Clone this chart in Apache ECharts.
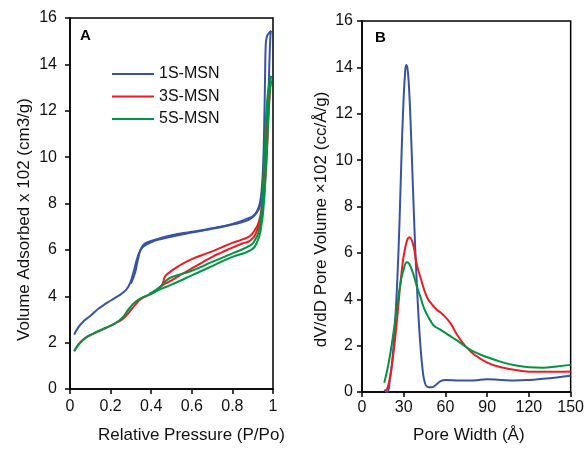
<!DOCTYPE html>
<html><head><meta charset="utf-8">
<script src="https://cdn.jsdelivr.net/npm/echarts@6/dist/echarts.min.js"></script>
<style>html,body{margin:0;padding:0;background:#fff}#c{width:587px;height:449px}</style>
</head><body><div id="c"></div>
<script>
// ---------- Panel A: N2 isotherms (Relative Pressure vs Volume Adsorbed x 10^2) ----------
const xTicksA = [0, 0.2, 0.4, 0.6, 0.8, 1];
const yTicks = [0, 2, 4, 6, 8, 10, 12, 14, 16];

const p1S_ads = [0.021,0.04,0.07,0.1,0.14,0.18,0.22,0.26,0.288,0.31,0.33,0.345,0.362,0.4,0.45,0.52,0.6,0.69,0.78,0.85,0.888,0.92,0.94,0.955,0.965,0.975,0.982,0.987,0.99];
const v1S_ads = [2.34,2.65,2.95,3.15,3.46,3.7,3.92,4.15,4.42,4.95,5.6,5.95,6.15,6.33,6.47,6.61,6.75,6.89,7.05,7.2,7.33,7.6,8.0,8.8,10.0,12.0,14.0,15.2,15.45];
const p1S_des = [0.3,0.32,0.335,0.35,0.37,0.4,0.5,0.6,0.7,0.8,0.888,0.9,0.92,0.935,0.945,0.952,0.957,0.961,0.964,0.97,0.98,0.99];
const v1S_des = [4.55,5.0,5.6,6.05,6.28,6.38,6.63,6.78,6.93,7.12,7.4,7.45,7.65,8.0,8.7,9.8,11.5,13.5,14.8,15.2,15.35,15.45];

const p3S_ads = [0.021,0.04,0.074,0.12,0.17,0.222,0.26,0.29,0.32,0.35,0.386,0.42,0.444,0.47,0.5,0.55,0.6,0.65,0.7,0.75,0.8,0.85,0.888,0.92,0.945,0.96,0.97,0.98,0.99];
const v3S_ads = [1.64,1.9,2.2,2.4,2.6,2.83,3.02,3.3,3.62,3.88,4.05,4.2,4.4,4.55,4.68,4.95,5.2,5.45,5.7,5.9,6.1,6.28,6.4,6.8,7.6,8.8,10.2,12.2,13.3];
const p3S_des = [0.42,0.44,0.455,0.469,0.493,0.518,0.55,0.6,0.69,0.75,0.8,0.85,0.888,0.91,0.93,0.945,0.955,0.965,0.975,0.985,0.99];
const v3S_des = [4.2,4.35,4.5,4.86,5.05,5.2,5.38,5.6,5.9,6.12,6.3,6.45,6.61,6.85,7.2,7.9,9.2,11.2,12.5,13.0,13.3];

const p5S_ads = [0.021,0.04,0.074,0.12,0.17,0.222,0.26,0.29,0.32,0.35,0.386,0.444,0.5,0.6,0.7,0.8,0.888,0.92,0.94,0.955,0.965,0.975,0.985,0.99];
const v5S_ads = [1.62,1.88,2.18,2.42,2.62,2.83,3.1,3.45,3.74,3.92,4.06,4.3,4.5,4.9,5.3,5.7,5.98,6.3,6.9,8.0,9.5,11.3,13.0,13.5];
const p5S_des = [0.39,0.42,0.45,0.47,0.5,0.6,0.7,0.8,0.888,0.91,0.93,0.942,0.952,0.962,0.972,0.982,0.99];
const v5S_des = [4.1,4.25,4.45,4.65,4.82,5.1,5.48,5.85,6.19,6.4,6.8,7.5,9.0,11.0,12.5,13.2,13.5];

// ---------- Panel B: pore size distribution ----------
const xTicksB = [0, 30, 60, 90, 120, 150];
const w1S = [16,18,20,22,24,25.5,27,28.3,29.6,30.8,31.8,32.8,34,35.2,36.4,37.6,39,40.5,42,43.5,45,47,50,53,56,60,70,80,90,100,110,120,130,140,150];
const d1S = [0.1,0,0.5,1.5,3.2,5.0,7.4,10.0,12.2,13.6,14.1,13.9,12.9,11.2,9.2,7.2,5.2,3.4,2.0,1.0,0.45,0.22,0.2,0.3,0.45,0.52,0.5,0.5,0.55,0.52,0.5,0.52,0.57,0.63,0.7];
const w3S = [17,19,22,25,28,31,34.2,37,39,42,46.6,50,53.8,58,63.4,68,72,75.4,80,89.7,100,113.6,125,140,150];
const d3S = [0,0.3,1.4,3.0,4.9,6.2,6.67,6.3,5.6,4.95,4.1,3.8,3.55,3.35,2.98,2.5,2.15,1.92,1.65,1.28,1.07,0.92,0.87,0.87,0.88];
const w5S = [16,19,22,25,28,30,32.3,35,39.5,42,45,49,52,56,60,65,70,75.4,80,90,100,110,120,130,140,150];
const d5S = [0.4,1.2,2.3,3.6,4.8,5.3,5.6,5.4,4.55,4.1,3.55,3.1,2.85,2.7,2.55,2.35,2.15,1.92,1.75,1.5,1.3,1.15,1.07,1.05,1.1,1.17];

const names = ['1S-MSN', '3S-MSN', '5S-MSN'];
const colors = ['#3953A4', '#ED1C24', '#009444'];

function zip(a, b) { return a.map((x, i) => [x, b[i]]); }

const chart = echarts.init(document.getElementById('c'), null, {renderer: 'canvas'});
const FONT = 'Liberation Sans, Arial, sans-serif';
const axisLine = {show: true, onZero: false, lineStyle: {color: '#000', width: 1.5}};
const axisTick = {show: true, inside: false, length: 5, lineStyle: {color: '#000', width: 1.5}};

function line(name, data, color, xi) {
  return {
    name: name, type: 'line', xAxisIndex: xi, yAxisIndex: xi, data: data,
    symbol: 'none', smooth: 0.5,
    lineStyle: {color: color, width: 2}, itemStyle: {color: color}, z: 3
  };
}

const option = {
  backgroundColor: '#fff',
  animation: false,
  textStyle: {fontFamily: FONT},
  grid: [
    {left: 70, right: 314, top: 18, bottom: 50, show: true, borderColor: '#000', borderWidth: 1.5},
    {left: 362, right: 16, top: 21, bottom: 52, show: true, borderColor: '#000', borderWidth: 1.5}
  ],
  xAxis: [
    {type: 'value', gridIndex: 0, min: xTicksA[0], max: xTicksA[xTicksA.length - 1], interval: 0.2,
     axisLine, axisTick, splitLine: {show: false},
     axisLabel: {color: '#111', fontSize: 16, fontFamily: FONT, margin: 10,
       formatter: v => String(+v.toFixed(1))},
     name: 'Relative Pressure (P/Po)', nameLocation: 'middle', nameGap: 38,
     nameTextStyle: {color: '#111', fontSize: 17, fontFamily: FONT, padding: [0, 0, 0, 40]}},
    {type: 'value', gridIndex: 1, min: xTicksB[0], max: xTicksB[xTicksB.length - 1], interval: 30,
     axisLine, axisTick, splitLine: {show: false},
     axisLabel: {color: '#111', fontSize: 16, fontFamily: FONT, margin: 8},
     name: 'Pore Width (Å)', nameLocation: 'middle', nameGap: 35,
     nameTextStyle: {color: '#111', fontSize: 17, fontFamily: FONT, padding: [0, 0, 0, 5]}}
  ],
  yAxis: [
    {type: 'value', gridIndex: 0, min: yTicks[0], max: yTicks[yTicks.length - 1], interval: 2,
     axisLine, axisTick, splitLine: {show: false},
     axisLabel: {color: '#111', fontSize: 16, fontFamily: FONT, margin: 13},
     name: 'Volume Adsorbed x 102 (cm3/g)', nameLocation: 'middle', nameGap: 37,
     nameTextStyle: {color: '#111', fontSize: 17, fontFamily: FONT, padding: [0, 32, 0, 0]}},
    {type: 'value', gridIndex: 1, min: yTicks[0], max: yTicks[yTicks.length - 1], interval: 2,
     axisLine, axisTick, splitLine: {show: false},
     axisLabel: {color: '#111', fontSize: 16, fontFamily: FONT, margin: 9},
     name: 'dV/dD Pore Volume ×102 (cc/Å/g)', nameLocation: 'middle', nameGap: 32,
     nameTextStyle: {color: '#111', fontSize: 17, fontFamily: FONT, padding: [0, 26, 0, 0]}}
  ],
  legend: {
    data: names, orient: 'vertical', left: 112, top: 66, padding: 0,
    icon: 'rect', itemWidth: 42, itemHeight: 2, itemGap: 6.5,
    textStyle: {color: '#111', fontSize: 16, fontFamily: FONT, padding: [0, 0, 0, 0]}
  },
  graphic: [
    {type: 'text', left: 80, top: 28, style: {text: 'A', font: 'bold 15px ' + FONT, fill: '#000'}},
    {type: 'text', left: 375, top: 30, style: {text: 'B', font: 'bold 15px ' + FONT, fill: '#000'}}
  ],
  series: [
    line(names[0], zip(p1S_ads, v1S_ads), colors[0], 0),
    line(names[0], zip(p1S_des, v1S_des), colors[0], 0),
    line(names[1], zip(p3S_ads, v3S_ads), colors[1], 0),
    line(names[1], zip(p3S_des, v3S_des), colors[1], 0),
    line(names[2], zip(p5S_ads, v5S_ads), colors[2], 0),
    line(names[2], zip(p5S_des, v5S_des), colors[2], 0),
    line(names[0], zip(w1S, d1S), colors[0], 1),
    line(names[1], zip(w3S, d3S), colors[1], 1),
    line(names[2], zip(w5S, d5S), colors[2], 1)
  ]
};
chart.setOption(option);
</script></body></html>
